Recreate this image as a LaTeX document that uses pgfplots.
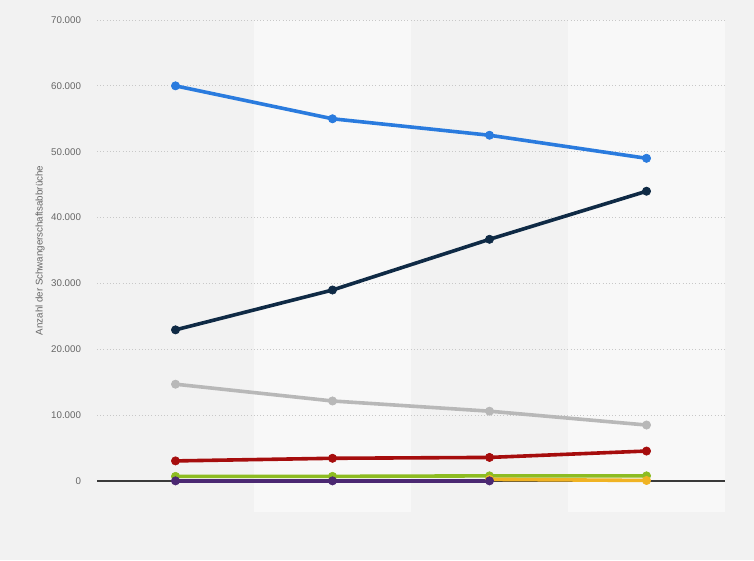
\documentclass[border=0pt]{standalone}
\usepackage{pgfplots}
\pgfplotsset{compat=1.18}
\usepackage{fontspec}
\setmainfont{Liberation Sans}
\definecolor{bgc}{HTML}{F2F2F2}
\definecolor{bandc}{HTML}{F8F8F8}
\definecolor{gridc}{HTML}{C8C8C8}
\definecolor{zeroc}{HTML}{3A3A3A}
\definecolor{tickc}{HTML}{666666}
\definecolor{sblue}{HTML}{2A7BDE}
\definecolor{snavy}{HTML}{0F2A45}
\definecolor{sgray}{HTML}{B8B8B8}
\definecolor{sred}{HTML}{A60D0D}
\definecolor{sgreen}{HTML}{8DBC22}
\definecolor{syellow}{HTML}{F0B323}
\definecolor{spurple}{HTML}{4B2872}

\begin{document}
\begin{tikzpicture}
\begin{axis}[
  at={(0,0)}, anchor=south west,
  scale only axis, width=471pt, height=345.75pt,
  xmin=-0.5, xmax=3.5, ymin=0, ymax=70000,
  clip=false, set layers,
  axis line style={draw=none},
  xtick=\empty,
  ytick={10000,20000,...,70000},
  extra y ticks={0},
  extra y tick style={major grid style={solid,draw=zeroc,line width=0.9pt}},
  ymajorgrids, major grid style={dotted,draw=gridc,line width=0.6pt},
  major tick length=0pt,
  scaled y ticks=false,
  yticklabel={\pgfmathprintnumber{\tick}},
  yticklabel style={font=\fontsize{7.3}{8}\selectfont, text=tickc, anchor=east, xshift=-8.5pt},
  /pgf/number format/.cd, 1000 sep={.}, assume math mode=true, /pgfplots/.cd,
  ylabel={Anzahl der Schwangerschaftsabbrüche},
  ylabel style={at={(axis description cs:-0.0907,0.5)}, anchor=center, rotate=0,
    font=\fontsize{7.3}{8}\selectfont, text=tickc},
  every axis plot/.append style={line width=2.7pt, mark=*, mark size=3.1pt,
    mark options={line width=0.5pt}},
]
\begin{pgfonlayer}{axis background}
  \fill[bgc] (rel axis cs:-0.15446,-0.17137) rectangle (rel axis cs:1.04618,1.04338);
  \fill[bandc] (axis cs:0.5,-4700) rectangle (axis cs:1.5,70000);
  \fill[bandc] (axis cs:2.5,-4700) rectangle (axis cs:3.5,70000);
\end{pgfonlayer}

\addplot[sblue] coordinates {(0,60000)(1,55000)(2,52500)(3,49000)};
\addplot[snavy] coordinates {(0,22950)(1,29000)(2,36700)(3,44000)};
\addplot[sgray] coordinates {(0,14700)(1,12150)(2,10600)(3,8500)};
\addplot[sred] coordinates {(0,3050)(1,3450)(2,3580)(3,4550)};
\addplot[sgreen] coordinates {(0,700)(1,700)(2,780)(3,780)};
\addplot[syellow] coordinates {(2,250)(3,80)};
\addplot[spurple] coordinates {(0,20)(1,20)(2,20)};
\end{axis}
\end{tikzpicture}
\end{document}
